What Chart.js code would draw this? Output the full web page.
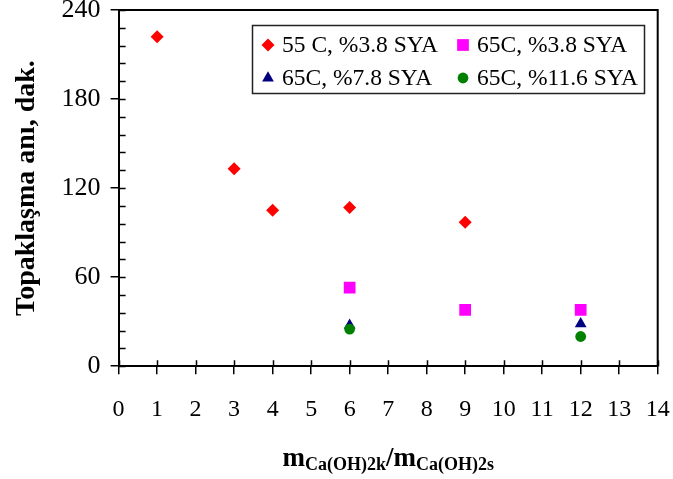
<!DOCTYPE html>
<html>
<head>
<meta charset="utf-8">
<script src="https://cdn.jsdelivr.net/npm/chart.js@4/dist/chart.umd.min.js"></script>
<style>
  body { margin: 0; background: #fff; }
  #wrap { position: relative; width: 673px; height: 479px; }
</style>
</head>
<body>
<div id="wrap"><canvas id="chart"></canvas></div>
<script>
// Series labels (legend text)
const seriesNames = ['55 C, %3.8 SYA', '65C, %3.8 SYA', '65C, %7.8 SYA', '65C, %11.6 SYA'];

// Data
const x55_38 = [1, 3, 4, 6, 9];
const y55_38 = [222, 133, 105, 107, 97];
const x65_38 = [6, 9, 12];
const y65_38 = [53, 38, 38];
const x65_78 = [6, 12];
const y65_78 = [27.5, 28.5];
const x65_116 = [6, 12];
const y65_116 = [25, 20];

// Axis ranges
const xRange = [0, 14];
const yRange = [0, 240];
const yStep = 60;
const yMinorStep = 12;

function pts(xs, ys) {
    return xs.map((x, i) => ({ x: x, y: ys[i] }));
}

// Inner tick marks + top/right frame of the plot area
const frameTicks = {
    id: 'frameTicks',
    afterDraw(chart) {
        const ctx = chart.ctx;
        const a = chart.chartArea;
        const xs = chart.scales.x, ys = chart.scales.y;
        ctx.save();
        ctx.strokeStyle = '#000';
        ctx.lineWidth = 1.5;
        ctx.beginPath();
        for (let v = yRange[0]; v <= yRange[1]; v += yMinorStep) {
            const py = Math.round(ys.getPixelForValue(v)) + 0.5;
            ctx.moveTo(a.left, py);
            ctx.lineTo(a.left + 7, py);
        }
        for (let v = xRange[0]; v <= xRange[1]; v++) {
            const px = Math.round(xs.getPixelForValue(v)) + 0.5;
            ctx.moveTo(px, a.bottom);
            ctx.lineTo(px, a.bottom - 6);
        }
        ctx.stroke();
        ctx.lineWidth = 2;
        ctx.beginPath();
        ctx.moveTo(a.left, a.top);
        ctx.lineTo(a.right, a.top);
        ctx.lineTo(a.right, a.bottom);
        ctx.stroke();
        ctx.restore();
    }
};

// Boxed legend inside the plot area
const boxLegend = {
    id: 'boxLegend',
    afterDraw(chart) {
        const ctx = chart.ctx;
        ctx.save();
        ctx.strokeStyle = '#222';
        ctx.lineWidth = 1.5;
        ctx.strokeRect(252.5, 25.5, 392, 68);
        const cols = [268, 463];
        const rows = [45, 78];
        ctx.font = '23.5px "Liberation Serif"';
        ctx.textBaseline = 'middle';
        ctx.fillStyle = '#000';
        chart.data.datasets.forEach((ds, i) => {
            const cx = cols[i % 2], cy = rows[Math.floor(i / 2)];
            ctx.fillStyle = ds.backgroundColor;
            ctx.strokeStyle = ds.borderColor;
            Chart.helpers.drawPoint(ctx, {
                pointStyle: ds.pointStyle, radius: ds.pointRadius, rotation: 0, borderWidth: 0
            }, cx, cy);
            ctx.fillStyle = '#000';
            ctx.fillText(ds.label, cx + 14, cy + 1);
        });
        ctx.restore();
    }
};

// X axis title with subscripts
const xTitle = {
    id: 'xTitle',
    afterDraw(chart) {
        const ctx = chart.ctx;
        const a = chart.chartArea;
        const big = 'bold 27px "Liberation Serif"';
        const small = 'bold 18px "Liberation Serif"';
        const parts = [
            ['m', big, 0], ['Ca(OH)2k', small, 4],
            ['/', big, 0], ['m', big, 0], ['Ca(OH)2s', small, 4]
        ];
        ctx.save();
        ctx.fillStyle = '#000';
        ctx.textBaseline = 'alphabetic';
        let total = 0;
        parts.forEach(p => { ctx.font = p[1]; total += ctx.measureText(p[0]).width; });
        let x = (a.left + a.right) / 2 - total / 2;
        const base = 466;
        parts.forEach(p => {
            ctx.font = p[1];
            ctx.fillText(p[0], x, base + p[2]);
            x += ctx.measureText(p[0]).width;
        });
        ctx.restore();
    }
};

new Chart(document.getElementById('chart'), {
    type: 'scatter',
    data: {
        datasets: [
            { label: seriesNames[0], data: pts(x55_38, y55_38), pointStyle: 'rectRot', pointRadius: 6.5,
              backgroundColor: '#FF0000', borderColor: '#FF0000', borderWidth: 0, order: 1 },
            { label: seriesNames[1], data: pts(x65_38, y65_38), pointStyle: 'rect', pointRadius: 8.3,
              backgroundColor: '#FF00FF', borderColor: '#FF00FF', borderWidth: 0, order: 1 },
            { label: seriesNames[2], data: pts(x65_78, y65_78), pointStyle: 'triangle', pointRadius: 6.8,
              backgroundColor: '#000080', borderColor: '#000080', borderWidth: 0, order: 1 },
            { label: seriesNames[3], data: pts(x65_116, y65_116), pointStyle: 'circle', pointRadius: 5.4,
              backgroundColor: '#008000', borderColor: '#008000', borderWidth: 0, order: 0 }
        ]
    },
    options: {
        responsive: true,
        maintainAspectRatio: false,
        animation: false,
        layout: { padding: { left: 10, right: 15.3, top: 10, bottom: 34 } },
        plugins: { legend: { display: false }, tooltip: { enabled: false } },
        elements: { point: { hoverRadius: 6 } },
        scales: {
            x: {
                type: 'linear', min: xRange[0], max: xRange[1],
                border: { display: true, color: '#000', width: 2 },
                grid: { drawOnChartArea: false, color: '#000', lineWidth: 1.5, tickLength: 8 },
                ticks: { stepSize: 1, color: '#000', padding: 21,
                         font: { family: 'Liberation Serif', size: 24 } },
                afterFit(scale) { scale.paddingLeft = 0; scale.paddingRight = 0; }
            },
            y: {
                min: yRange[0], max: yRange[1],
                border: { display: true, color: '#000', width: 2 },
                grid: { drawOnChartArea: false, color: '#000', lineWidth: 1.5, tickLength: 8 },
                ticks: { stepSize: yStep, color: '#000', padding: 10,
                         font: { family: 'Liberation Serif', size: 26, lineHeight: 0.8 } },
                title: { display: true, text: 'Topaklaşma anı, dak.', color: '#000',
                         padding: { top: 0, bottom: 8 },
                         font: { family: 'Liberation Serif', size: 28, weight: 'bold' } },
                afterFit(scale) { scale.paddingTop = 0; scale.paddingBottom = 0; }
            }
        }
    },
    plugins: [frameTicks, boxLegend, xTitle]
});
</script>
</body>
</html>
